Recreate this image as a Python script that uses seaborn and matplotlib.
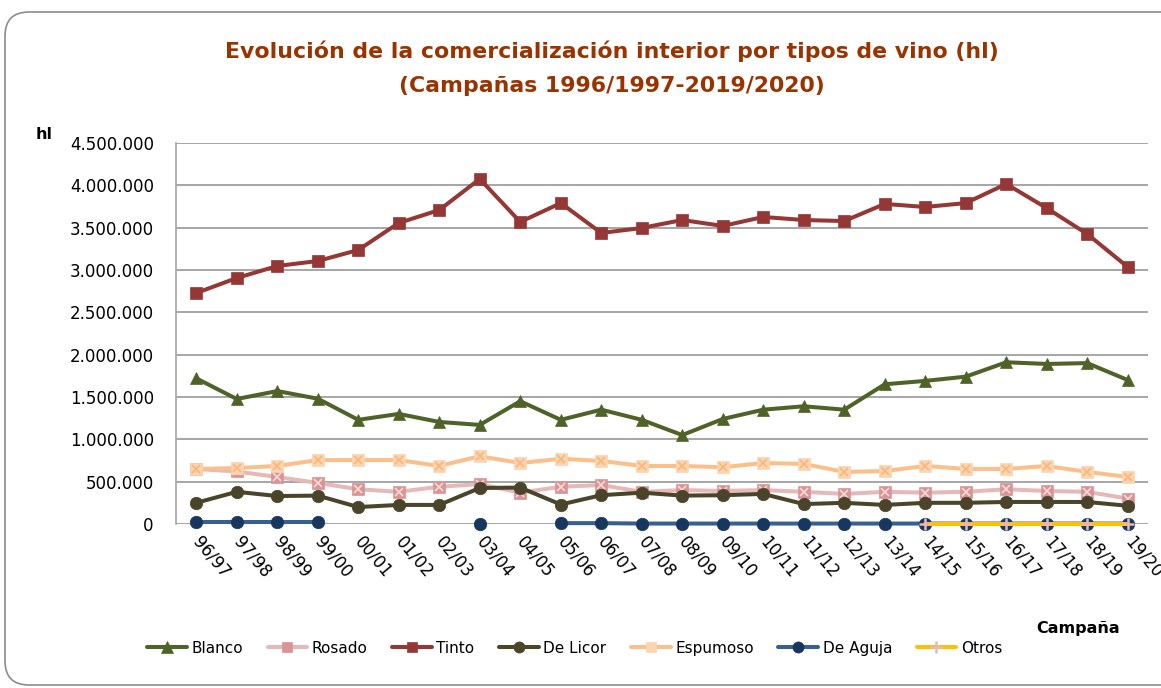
import numpy as np
import pandas as pd
import matplotlib
matplotlib.use("Agg")
import matplotlib.pyplot as plt
import seaborn as sns
from matplotlib.lines import Line2D
from matplotlib.patches import FancyBboxPatch
from matplotlib.ticker import FuncFormatter, MultipleLocator

# Campaigns
campanas = ["96/97", "97/98", "98/99", "99/00", "00/01", "01/02", "02/03", "03/04",
            "04/05", "05/06", "06/07", "07/08", "08/09", "09/10", "10/11", "11/12",
            "12/13", "13/14", "14/15", "15/16", "16/17", "17/18", "18/19", "19/20"]

nan = np.nan
# Interior commercialisation by wine type (hl)
blanco = [1720000, 1476000, 1570000, 1480000, 1230000, 1300000, 1205000, 1170000,
          1450000, 1230000, 1350000, 1230000, 1050000, 1240000, 1350000, 1390000,
          1350000, 1650000, 1690000, 1740000, 1910000, 1890000, 1900000, 1700000]
rosado = [650000, 620000, 555000, 485000, 410000, 380000, 440000, 470000,
          370000, 440000, 460000, 380000, 400000, 390000, 400000, 380000,
          355000, 380000, 370000, 380000, 410000, 390000, 380000, 300000]
tinto = [2728000, 2905000, 3047000, 3106000, 3236000, 3555000, 3708000, 4075000,
         3567000, 3790000, 3437000, 3496000, 3590000, 3520000, 3626000, 3590000,
         3578000, 3780000, 3744000, 3790000, 4016000, 3730000, 3425000, 3035000]
de_licor = [250000, 380000, 330000, 335000, 200000, 225000, 225000, 425000,
            430000, 230000, 340000, 370000, 335000, 340000, 355000, 235000,
            250000, 225000, 250000, 250000, 260000, 260000, 260000, 215000]
espumoso = [650000, 660000, 685000, 755000, 755000, 755000, 685000, 800000,
            720000, 770000, 745000, 685000, 685000, 670000, 720000, 710000,
            615000, 625000, 685000, 650000, 650000, 685000, 615000, 555000]
de_aguja = [20000, 20000, 20000, 20000, nan, nan, nan, 0,
            nan, 10000, 10000, 5000, 5000, 5000, 5000, 5000,
            5000, 5000, 5000, 5000, 5000, 5000, 5000, 5000]
otros = [nan, nan, nan, nan, nan, nan, nan, nan,
         nan, nan, nan, nan, nan, nan, nan, nan,
         nan, nan, 5000, 5000, 5000, 5000, 5000, 5000]

sns.set_theme(style="white")
plt.rcParams["font.family"] = ["DejaVu Sans"]
for key in ["text.color", "axes.labelcolor", "xtick.color", "ytick.color"]:
    plt.rcParams[key] = "black"

fig = plt.figure(figsize=(11.61, 6.88), dpi=100)
fig.patch.set_facecolor("white")

# rounded chart frame, in pixel units
frame = FancyBboxPatch((5, 3), 1300, 673,
                       boxstyle="round,pad=0,rounding_size=24",
                       transform=None, facecolor="none",
                       edgecolor="#8C8C8C", linewidth=1.2)
fig.patches.append(frame)

ax = fig.add_axes([0.1516, 0.2384, 0.8372, 0.5538])
x = np.arange(len(campanas))

series = [
    ("Blanco", blanco, dict(color="#4F6228", marker="^", mfc="#4F6228", mec="#4F6228", ms=9)),
    ("Rosado", rosado, dict(color="#E6B9B8", marker="s", mfc="#D99594", mec="#D99594", ms=8)),
    ("Tinto", tinto, dict(color="#953735", marker="s", mfc="#953735", mec="#953735", ms=8)),
    ("De Licor", de_licor, dict(color="#4A452A", marker="o", mfc="#4A452A", mec="#4A452A", ms=9)),
    ("Espumoso", espumoso, dict(color="#FCBF8A", marker="s", mfc="#FBD4B0", mec="#FBD4B0", ms=8)),
    ("De Aguja", de_aguja, dict(color="#376092", marker="o", mfc="#17375E", mec="#17375E", ms=9)),
    ("Otros", otros, dict(color="#FFC000", marker="+", mfc="#E6B9B8", mec="#E6B9B8", ms=9)),
]
cross_color = {"Rosado": "#F2DCDB", "Espumoso": "#FAB77A"}
LW = 2.9


def segments(vals):
    vals = np.asarray(vals, dtype=float)
    ok = ~np.isnan(vals)
    segs, cur = [], []
    for i, flag in enumerate(ok):
        if flag:
            cur.append(i)
        elif cur:
            segs.append(cur)
            cur = []
    if cur:
        segs.append(cur)
    return segs


z = 3
for name, vals, st in series:
    vals = np.asarray(vals, dtype=float)
    for seg in segments(vals):
        df = pd.DataFrame({"x": x[seg], "y": vals[seg]})
        sns.lineplot(data=df, x="x", y="y", ax=ax, color=st["color"], linewidth=LW,
                     marker=st["marker"], markersize=st["ms"],
                     markerfacecolor=st["mfc"], markeredgecolor=st["mec"],
                     markeredgewidth=1.8 if st["marker"] == "+" else 0.5,
                     zorder=z, clip_on=False)
        if name in cross_color:
            sns.lineplot(data=df, x="x", y="y", ax=ax, linestyle="none", marker="x",
                         markersize=6, markeredgecolor=cross_color[name],
                         markeredgewidth=1.2, zorder=z + 0.5, clip_on=False)
    z += 1

ax.set_xlim(-0.5, len(campanas) - 0.5)
ax.set_ylim(0, 4500000)
ax.yaxis.set_major_locator(MultipleLocator(500000))
ax.yaxis.set_major_formatter(FuncFormatter(lambda v, p: f"{v:,.0f}".replace(",", ".")))
ax.grid(axis="y", color="#A6A6A6", linewidth=1.4)
ax.set_axisbelow(True)
for s in ["top", "right", "bottom"]:
    ax.spines[s].set_visible(False)
ax.spines["left"].set_color("#A6A6A6")
ax.spines["left"].set_linewidth(1.2)
ax.tick_params(axis="y", labelsize=12, pad=16, length=0)
ax.set_xticks(x)
ax.set_xticklabels(campanas, rotation=-50, ha="left", va="center",
                   rotation_mode="anchor", fontsize=12)
ax.tick_params(axis="x", length=0, pad=11)
ax.set_xlabel("")
ax.set_ylabel("")

fig.text(0.527, 0.925, "Evolución de la comercialización interior por tipos de vino (hl)",
         ha="center", va="center", fontsize=15.8, fontweight="bold", color="#993300")
fig.text(0.527, 0.875, "(Campañas 1996/1997-2019/2020)",
         ha="center", va="center", fontsize=15.8, fontweight="bold", color="#993300")
fig.text(0.031, 0.804, "hl", ha="left", va="center", fontsize=11.5, fontweight="bold")
fig.text(0.965, 0.087, "Campaña", ha="right", va="center", fontsize=11.5, fontweight="bold")

handles = [Line2D([], [], color=st["color"], linewidth=LW, marker=st["marker"],
                  markersize=st["ms"] - 1, markerfacecolor=st["mfc"],
                  markeredgecolor=st["mec"],
                  markeredgewidth=1.8 if st["marker"] == "+" else 0.5)
           for _, _, st in series]
labels = [name for name, _, _ in series]
fig.legend(handles, labels, loc="center", bbox_to_anchor=(0.495, 0.058), ncol=7,
           frameon=False, fontsize=11, handlelength=2.6, handletextpad=0.3,
           columnspacing=1.6)

fig.savefig("out.png", dpi=100, facecolor="white")
